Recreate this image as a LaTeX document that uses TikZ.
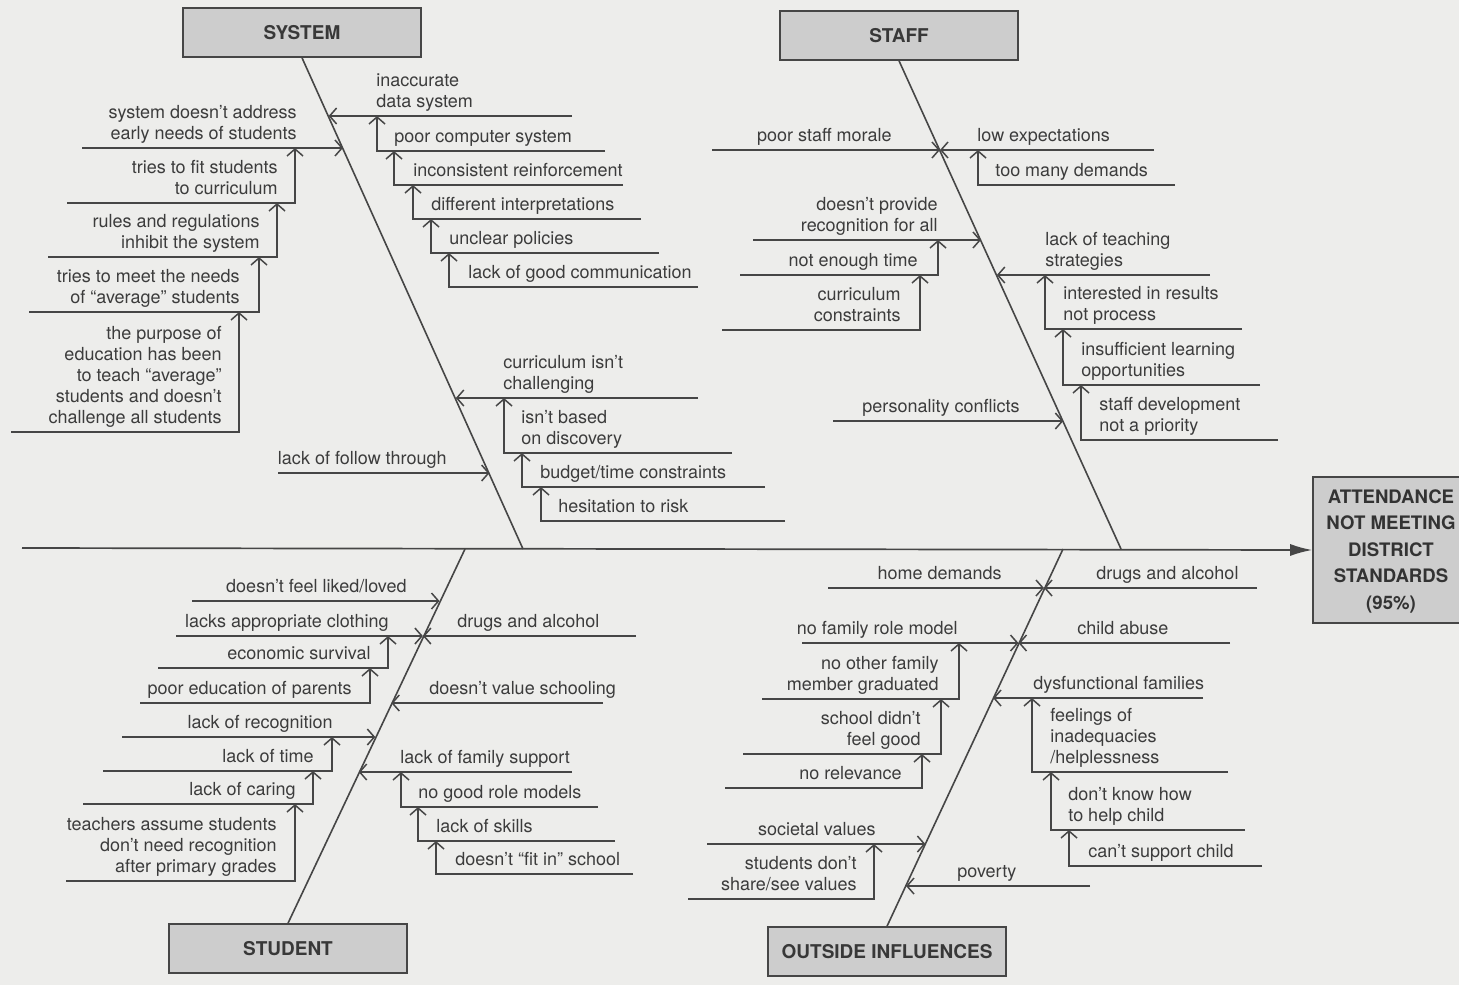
\documentclass[tikz,border=0pt]{standalone}
\usepackage{fontspec}
\setmainfont{TeX Gyre Heros}
\usetikzlibrary{arrows.meta}
\definecolor{bg}{RGB}{237,237,235}
\definecolor{ink}{RGB}{70,70,70}
\definecolor{txt}{RGB}{60,60,60}
\definecolor{boxfill}{RGB}{205,205,205}
\newcommand\labfont{\fontsize{9}{10.5}\selectfont}
\newcommand\headfont{\fontsize{9.5}{11}\selectfont\bfseries}
\newcommand\efffont{\fontsize{9.3}{13.25}\selectfont\bfseries}
% left-side branch into a bone
\newcommand\fbL[6]{%
  \coordinate (#1s) at (#2,#3);
  \coordinate (#1e) at (#4,#3);
  \draw[br] (#1s) -- (#1e);
  \node[lab,anchor=south east,align=right] (#1) at (#5,#3-2) {#6};}
% left-side sub-branch into the branch above
\newcommand\fsL[7]{%
  \coordinate (#1s) at (#2,#3);
  \coordinate (#1c) at (#4,#3);
  \coordinate (#1e) at (#4,#5);
  \draw[br] (#1s) -- (#1c) -- (#1e);
  \node[lab,anchor=south east,align=right] (#1) at (#6,#3-2) {#7};}
% right-side branch into a bone
\newcommand\fbR[6]{%
  \coordinate (#1s) at (#2,#3);
  \coordinate (#1e) at (#4,#3);
  \draw[br] (#1s) -- (#1e);
  \node[lab,anchor=south west,align=left] (#1) at (#5,#3-2) {#6};}
% right-side sub-branch into the branch above
\newcommand\fsR[7]{%
  \coordinate (#1s) at (#2,#3);
  \coordinate (#1c) at (#4,#3);
  \coordinate (#1e) at (#4,#5);
  \draw[br] (#1s) -- (#1c) -- (#1e);
  \node[lab,anchor=south west,align=left] (#1) at (#6,#3-2) {#7};}
\begin{document}
\begin{tikzpicture}[x=0.5pt,y=-0.5pt,
  br/.style={draw=ink,line width=0.75pt,-{Straight Barb[length=3.5pt,width=8pt]}},
  bone/.style={draw=ink,line width=0.8pt},
  spine/.style={draw=ink,line width=0.85pt,-{Latex[length=11pt,width=6pt]}},
  lab/.style={text=txt,font=\labfont,inner sep=0pt,execute at end node=\strut},
  head/.style={draw=ink,line width=0.8pt,fill=boxfill,minimum width=119pt,minimum height=24.5pt,inner sep=0pt,font=\headfont,text=black!78},
  effbox/.style={draw=ink,line width=0.8pt,fill=boxfill,minimum width=85pt,minimum height=73pt,inner sep=0pt},
  efftxt/.style={font=\efffont,align=center,text=black!80,inner sep=0pt}]
\useasboundingbox (0,0) rectangle (1459,985);
\clip (0,0) rectangle (1459,985);
\fill[bg] (0,0) rectangle (1459,985);

% heads
\node[head] (sys) at (302,32.5) {SYSTEM};
\node[head] (stf) at (899,35.5) {STAFF};
\node[head] (stu) at (288,948.5) {STUDENT};
\node[head] (out) at (887,951.5) {OUTSIDE INFLUENCES};

% effect
\node[effbox] (eff) at (1398,550) {};
\node[efftxt] (efft) at (1391,551) {ATTENDANCE\\NOT MEETING\\DISTRICT\\STANDARDS\\(95\%)};

% spine and bones
\coordinate (tail) at (22,548);
\draw[spine] (tail) -- (eff.west);
\coordinate (sysE) at (523,549);
\coordinate (stfE) at (1121,549);
\coordinate (stuE) at (465,549);
\coordinate (outE) at (1063,549);
\draw[bone] (sys.south) -- (sysE);
\draw[bone] (stf.south) -- (stfE);
\draw[bone] (stu.north) -- (stuE);
\draw[bone] (out.north) -- (outE);

% SYSTEM
\fbL{s1}{82}{148}{343}{297}{system doesn’t address\\early needs of students}
\fsL{s2}{67}{203}{295}{148}{278}{tries to fit students\\to curriculum}
\fsL{s3}{48}{257}{277}{203}{260}{rules and regulations\\inhibit the system}
\fsL{s4}{29}{312}{259}{257}{240}{tries to meet the needs\\of “average” students}
\fsL{s5}{11}{432}{239}{312}{222}{the purpose of\\education has been\\to teach “average”\\students and doesn’t\\challenge all students}
\fbL{s6}{278}{473}{489.6}{447}{lack of follow through}
\fbR{s7}{572}{116}{328.6}{376}{inaccurate\\data system}
\fsR{s8}{605}{151}{377}{116}{394}{poor computer system}
\fsR{s9}{623}{185}{394}{151}{413}{inconsistent reinforcement}
\fsR{s10}{641}{219}{413}{185}{431}{different interpretations}
\fsR{s11}{659}{253}{431}{219}{449}{unclear policies}
\fsR{s12}{698}{287}{449}{253}{468}{lack of good communication}
\fbR{s13}{698}{398}{455.8}{503}{curriculum isn’t\\challenging}
\fsR{s14}{732}{453}{504}{398}{521}{isn’t based\\on discovery}
\fsR{s15}{765}{487}{522}{453}{540}{budget/time constraints}
\fsR{s16}{785}{521}{541}{487}{558}{hesitation to risk}

% STAFF
\fbL{f1}{712}{150}{940}{892}{poor staff morale}
\fbL{f2}{753}{240}{981}{938}{doesn’t provide\\recognition for all}
\fsL{f3}{740}{275}{938}{240}{918}{not enough time}
\fsL{f4}{722}{330}{920}{275}{901}{curriculum\\constraints}
\fbL{f5}{833}{421}{1063.3}{1020}{personality conflicts}
\fbR{f6}{1154}{150}{940}{977}{low expectations}
\fsR{f7}{1175}{185}{978}{150}{995}{too many demands}
\fbR{f8}{1210}{275}{996.8}{1045}{lack of teaching\\strategies}
\fsR{f9}{1242}{329}{1045}{275}{1063}{interested in results\\not process}
\fsR{f10}{1260}{385}{1063}{329}{1081}{insufficient learning\\opportunities}
\fsR{f11}{1278}{440}{1081}{385}{1099}{staff development\\not a priority}

% STUDENT
\fbL{u1}{192}{601}{439.5}{407}{doesn’t feel liked/loved}
\fbL{u2}{176}{636}{422.9}{389}{lacks appropriate clothing}
\fsL{u3}{158}{668}{388}{636}{371}{economic survival}
\fsL{u4}{140}{703}{370}{668}{352}{poor education of parents}
\fbL{u5}{122}{737}{375.3}{333}{lack of recognition}
\fsL{u6}{103}{771}{332}{737}{314}{lack of time}
\fsL{u7}{83}{804}{313}{771}{296}{lack of caring}
\fsL{u8}{66}{881}{295}{804}{277}{teachers assume students\\don’t need recognition\\after primary grades}
\fbR{u9}{636}{636}{422.9}{457}{drugs and alcohol}
\fbR{u10}{603}{703}{391.3}{429}{doesn’t value schooling}
\fbR{u11}{572}{772}{358.7}{400}{lack of family support}
\fsR{u12}{598}{807}{401}{772}{418}{no good role models}
\fsR{u13}{615}{841}{418}{807}{436}{lack of skills}
\fsR{u14}{633}{874}{436}{841}{455}{doesn’t “fit in” school}

% OUTSIDE INFLUENCES
\fbL{o1}{828}{588}{1044}{1002}{home demands}
\fbL{o2}{802}{643}{1018.5}{958}{no family role model}
\fsL{o3}{762}{699}{959}{643}{939}{no other family\\member graduated}
\fsL{o4}{743}{754}{941}{699}{921}{school didn’t\\feel good}
\fsL{o5}{725}{788}{922}{754}{902}{no relevance}
\fbL{o6}{707}{844}{925.4}{876}{societal values}
\fsL{o7}{688}{899}{874}{844}{857}{students don’t\\share/see values}
\fbR{o8}{1257}{588}{1044}{1096}{drugs and alcohol}
\fbR{o9}{1230}{643}{1018.5}{1077}{child abuse}
\fbR{o10}{1203}{698}{993}{1033}{dysfunctional families}
\fsR{o11}{1228}{772}{1032}{698}{1050}{feelings of\\inadequacies\\/helplessness}
\fsR{o12}{1245}{830}{1051}{772}{1068}{don’t know how\\to help child}
\fsR{o13}{1262}{866}{1069}{830}{1088}{can’t support child}
\fbR{o14}{1090}{886}{906}{957}{poverty}
\end{tikzpicture}
\end{document}
